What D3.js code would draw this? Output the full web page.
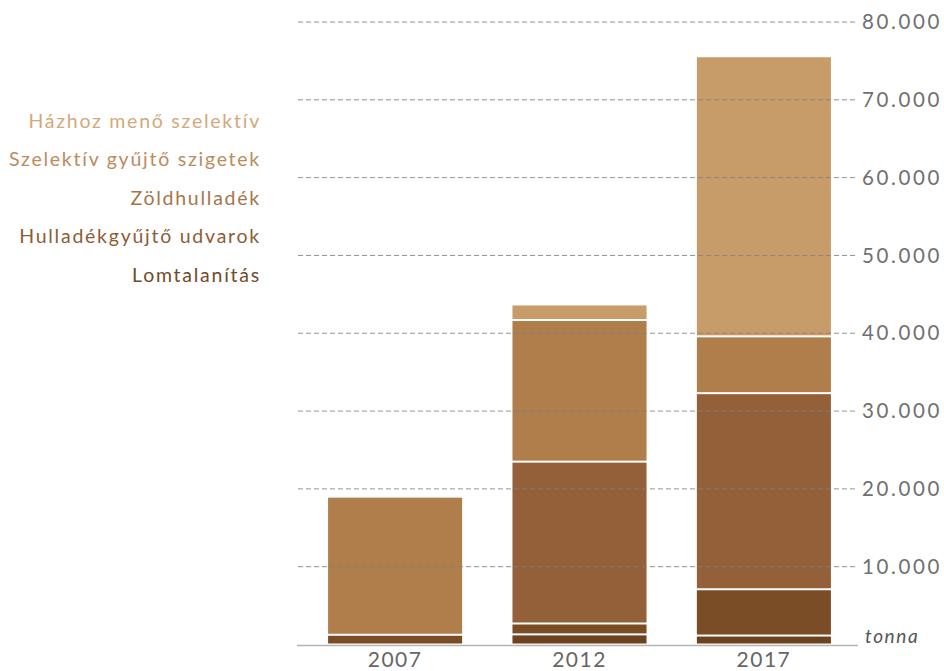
<!DOCTYPE html>
<html>
<head>
<meta charset="utf-8">
<script src="https://cdn.jsdelivr.net/npm/d3@7"></script>
<style>
  html, body { margin: 0; padding: 0; background: #fff; }
  svg { display: block; }
  text { font-family: Lato, "Open Sans", sans-serif; font-weight: 400; }
</style>
</head>
<body>
<svg id="chart" width="944" height="671"></svg>
<script>
// Collected waste by source, tonnes
const years = ["2007", "2012", "2017"];
const seriesNames = [
  "Lomtalanítás",
  "Hulladékgyűjtő udvarok",
  "Zöldhulladék",
  "Szelektív gyűjtő szigetek",
  "Házhoz menő szelektív"
];
const lomtalanitas = [0, 1300, 1150];
const udvarok      = [1250, 1400, 5950];
const zoldhulladek = [0, 20800, 25200];
const szigetek     = [17750, 18200, 7300];
const hazhoz       = [0, 2000, 36000];
const tickValues = [10000, 20000, 30000, 40000, 50000, 60000, 70000, 80000];
const unitLabel = "tonna";

const barColors  = ["#6d431f", "#7b4d27", "#93603a", "#b07e4a", "#c89c68"];
const textColors = ["#744a2a", "#8c5d37", "#a5764a", "#bb8c5d", "#d2a97b"];

const seriesValues = [lomtalanitas, udvarok, zoldhulladek, szigetek, hazhoz];
const rows = years.map((y, i) => {
  const r = { year: y };
  seriesNames.forEach((n, k) => { r[n] = seriesValues[k][i]; });
  return r;
});

const svg = d3.select("#chart");

const y = d3.scaleLinear().domain([0, 80000]).range([644.5, 22]);
const x = d3.scaleBand().domain(years).range([303, 856])
  .paddingInner(0.273).paddingOuter(0.136);

const stack = d3.stack().keys(seriesNames);
const layers = stack(rows);

// stacked bars with white separators
const g = svg.append("g");
g.selectAll("g.layer")
  .data(layers)
  .join("g")
  .attr("class", "layer")
  .attr("fill", (d, i) => barColors[i])
  .selectAll("rect")
  .data(d => d.filter(p => p[1] - p[0] > 0))
  .join("rect")
  .attr("x", d => x(d.data.year))
  .attr("width", x.bandwidth())
  .attr("y", d => y(d[1]) + 1)
  .attr("height", d => Math.max(0, y(d[0]) - y(d[1]) - 2));

// dashed grid lines, drawn over the bars
const grid = svg.append("g");
grid.selectAll("line")
  .data(tickValues)
  .join("line")
  .attr("x1", 298).attr("x2", 858)
  .attr("y1", d => y(d)).attr("y2", d => y(d))
  .attr("stroke", "#808080")
  .attr("stroke-opacity", 0.85)
  .attr("stroke-width", 1)
  .attr("stroke-dasharray", "5,3");

// baseline
svg.append("line")
  .attr("x1", 297).attr("x2", 858)
  .attr("y1", y(0) + 1).attr("y2", y(0) + 1)
  .attr("stroke", "#b4b4b4").attr("stroke-width", 1.5);

// value axis labels on the right
const yAxis = d3.axisRight(y)
  .tickValues(tickValues)
  .tickSize(0)
  .tickPadding(0)
  .tickFormat(d => d3.format(",")(d).replace(/,/g, "."));
const ya = svg.append("g").attr("transform", "translate(862,0)").call(yAxis);
ya.select(".domain").remove();
ya.selectAll("text")
  .attr("fill", "#707070")
  .style("font-size", "20.5px")
  .style("font-weight", 400)
  .style("letter-spacing", "2.6px")
  .style("font-family", "Lato, sans-serif");

// unit label
svg.append("text")
  .attr("x", 865).attr("y", 643)
  .attr("fill", "#555")
  .style("font-size", "19px")
  .style("font-style", "italic")
  .style("letter-spacing", "1.6px")
  .text(unitLabel);

// year labels
const xAxis = d3.axisBottom(x).tickSize(0).tickPadding(0);
const xa = svg.append("g").attr("transform", "translate(0,650)").call(xAxis);
xa.select(".domain").remove();
xa.selectAll("text")
  .attr("fill", "#666")
  .attr("dy", "0.8em")
  .style("font-size", "21px")
  .style("font-weight", 400)
  .style("letter-spacing", "1.5px")
  .style("font-family", "Lato, sans-serif");

// legend, top entry first
const legend = svg.append("g");
const legendItems = seriesNames.map((n, i) => ({ name: n, color: textColors[i] })).reverse();
legend.selectAll("text")
  .data(legendItems)
  .join("text")
  .attr("x", 261)
  .attr("y", (d, i) => 127.5 + i * 38.6)
  .attr("text-anchor", "end")
  .attr("fill", d => d.color)
  .style("font-size", "19.5px")
  .style("letter-spacing", "1.75px")
  .text(d => d.name);
</script>
</body>
</html>
